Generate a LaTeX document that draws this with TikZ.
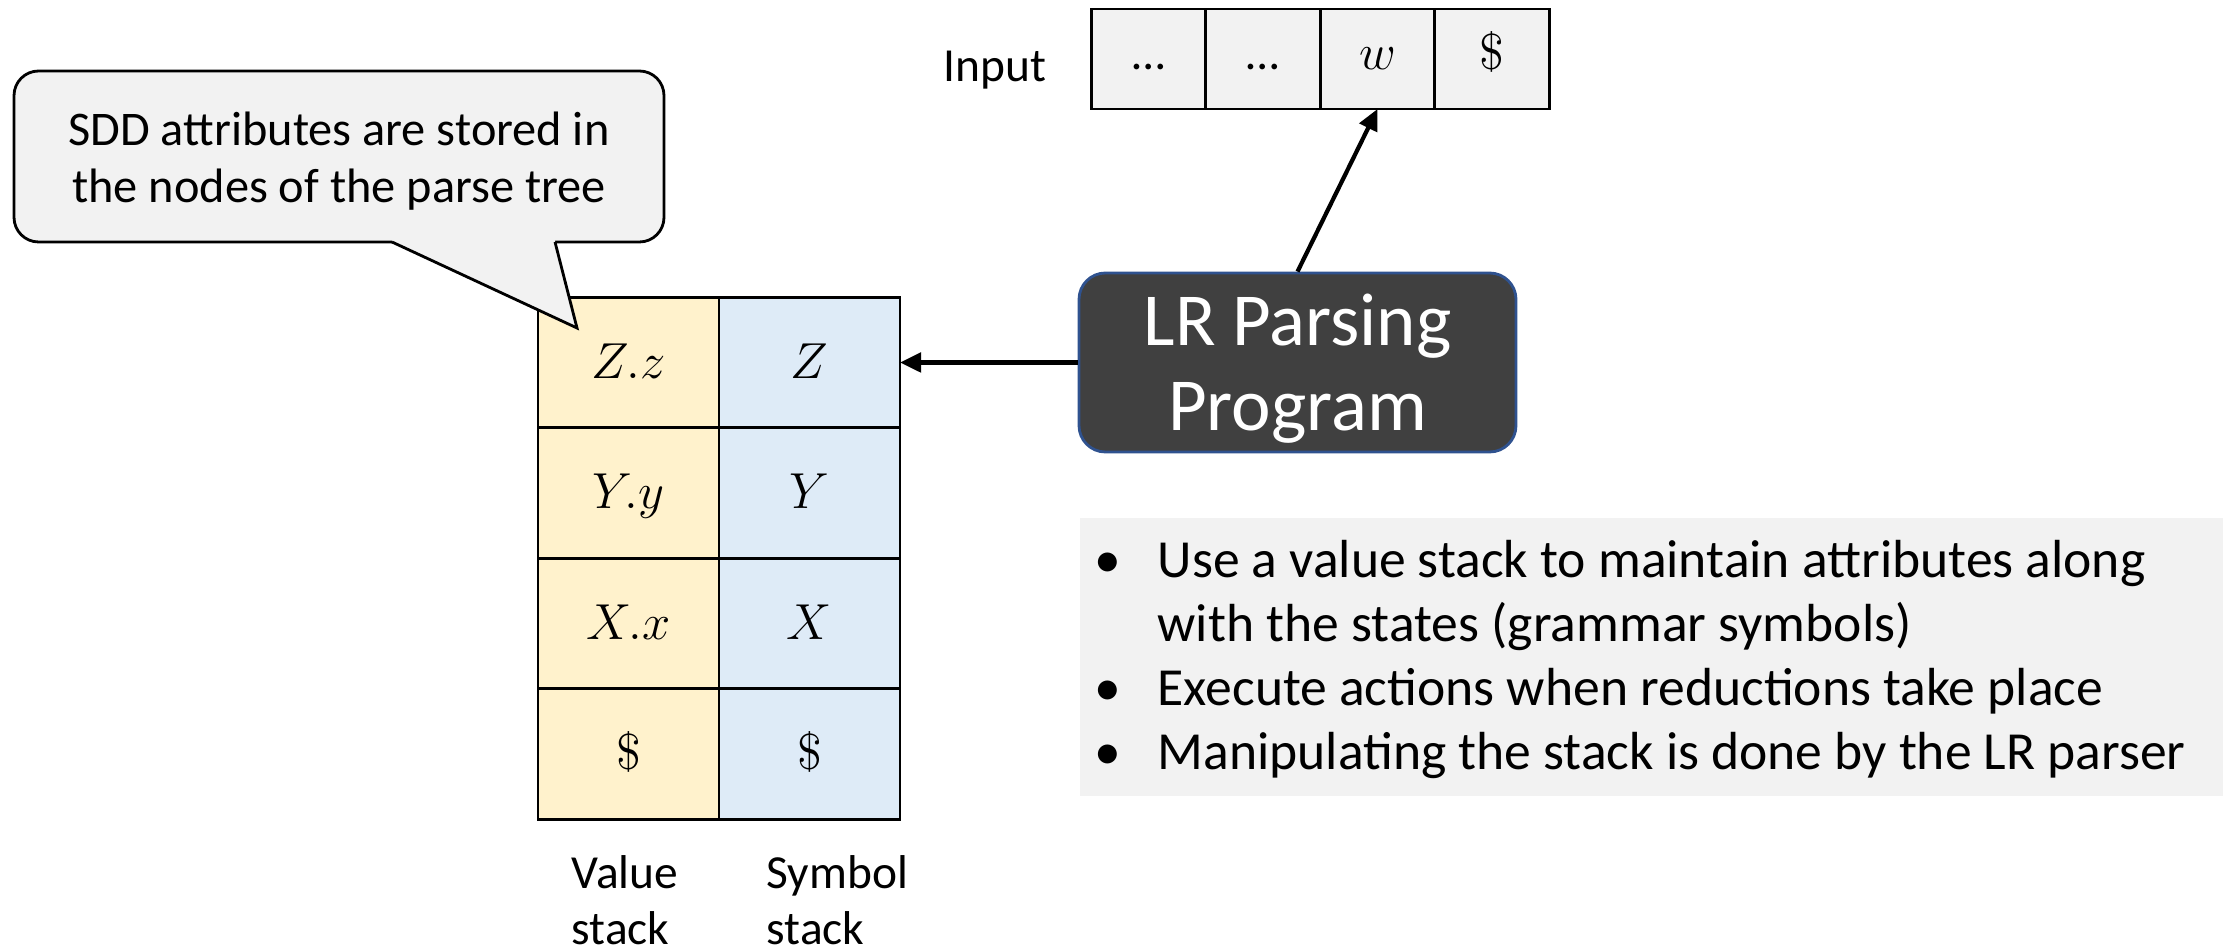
\documentclass[tikz,border=0pt]{standalone}
\usepackage{fontspec}
\setmainfont{Carlito}
\usepackage{amsmath}
\usetikzlibrary{arrows.meta, positioning}

\definecolor{valfill}{HTML}{FFF2CC}
\definecolor{symfill}{HTML}{DEEBF7}
\definecolor{panelgray}{HTML}{F2F2F2}
\definecolor{progfill}{HTML}{404040}
\definecolor{progline}{HTML}{2F528F}

\begin{document}
\begin{tikzpicture}[
      x=0.1mm, y=-0.1mm,
      cell/.style={rectangle, draw, line width=0.8pt, outer sep=0pt, inner sep=0pt,
                   minimum width=1.81cm, minimum height=1.305cm,
                   text height=2.0ex, text depth=0.15ex,
                   font=\fontsize{13.5}{16}\selectfont},
      val/.style={cell, fill=valfill},
      sym/.style={cell, fill=symfill},
      inp/.style={cell, fill=panelgray, minimum width=1.145cm, minimum height=1.0cm,
                  text height=1.6ex, text depth=0.4ex},
      lbl/.style={inner sep=0pt, align=left, font=\fontsize{13.5}{15.9}\selectfont},
      prog/.style={rectangle, draw=progline, line width=0.8pt, rounded corners=7.5pt,
                   fill=progfill, text=white, inner sep=0pt,
                   minimum width=4.37cm, minimum height=1.79cm,
                   font=\fontsize{21.3}{24.2}\selectfont},
      note/.style={rectangle, draw, line width=0.8pt, rounded corners=7pt,
                   fill=panelgray, inner sep=0pt,
                   minimum width=6.5cm, minimum height=1.71cm,
                   font=\fontsize{13.75}{16.2}\selectfont},
      panel/.style={rectangle, fill=panelgray, inner sep=0pt,
                    minimum width=11.43cm, minimum height=2.78cm,
                    font=\fontsize{15.25}{18.2}\selectfont},
      arr/.style={-{Triangle[length=6pt,width=5.5pt]}, line width=1.2pt},
    ]
    \useasboundingbox (0,0) rectangle (2233,950);

    % value and symbol stacks
    \node[val] (vz) at (628.5,362.5) {$Z.z$};
    \node[sym] (sz) [right=0pt of vz] {$Z$};
    \node[val] (vy) [below=0pt of vz] {$Y.y$};
    \node[sym] (sy) [right=0pt of vy] {$Y$};
    \node[val] (vx) [below=0pt of vy] {$X.x$};
    \node[sym] (sx) [right=0pt of vx] {$X$};
    \node[val] (vd) [below=0pt of vx] {$\$$};
    \node[sym] (sd) [right=0pt of vd] {$\$$};
    \node[lbl, anchor=west] (vlab) at (571,900) {Value\\stack};
    \node[lbl, anchor=west] (slab) at (766,900) {Symbol\\stack};

    % input buffer
    \node[inp] (in1) at (1148.5,59) {…\hspace{0.2cm}};
    \node[inp] (in2) [right=0pt of in1] {…\hspace{0.1cm}};
    \node[inp] (in3) [right=0pt of in2] {$w$};
    \node[inp] (in4) [right=0pt of in3] {$\$$};
    \node[lbl] (inlab) [left=0.44cm of in1, yshift=-0.11cm] {Input};

    % parser
    \node[prog] (prog) at (1297.5,362.5)
      {\raisebox{-0.085cm}[\height][\depth]{\begin{tabular}{@{}c@{}}LR Parsing\\Program\end{tabular}}};
    \node[panel, anchor=north west] (notes) at (1079,517) {%
      \hspace*{-0.22cm}\raisebox{-0.04cm}[\height][\depth]{%
      \begin{tabular}{@{}p{0.63cm}@{}l@{}}
        \textbullet & Use a value stack to maintain attributes along\\
                    & with the states (grammar symbols)\\
        \textbullet & Execute actions when reductions take place\\
        \textbullet & Manipulating the stack is done by the LR parser
      \end{tabular}}};

    \draw[arr] (prog.west)  -- (sz.east);
    \draw[arr] (prog.north) -- (in3.south);

    % callout
    \node[note] (note) at (339,156.5)
      {\raisebox{-0.06cm}[\height][\depth]{\begin{tabular}{@{}c@{}}SDD attributes are stored in\\the nodes of the parse tree\end{tabular}}};
    \coordinate (tip) at (577,328);
    \fill[panelgray] (392,242) -- (tip) -- (555,242) -- (555,236) -- (392,236) -- cycle;
    \draw[line width=0.8pt] (392,242) -- (tip) -- (555,242);
  \end{tikzpicture}
\end{document}
